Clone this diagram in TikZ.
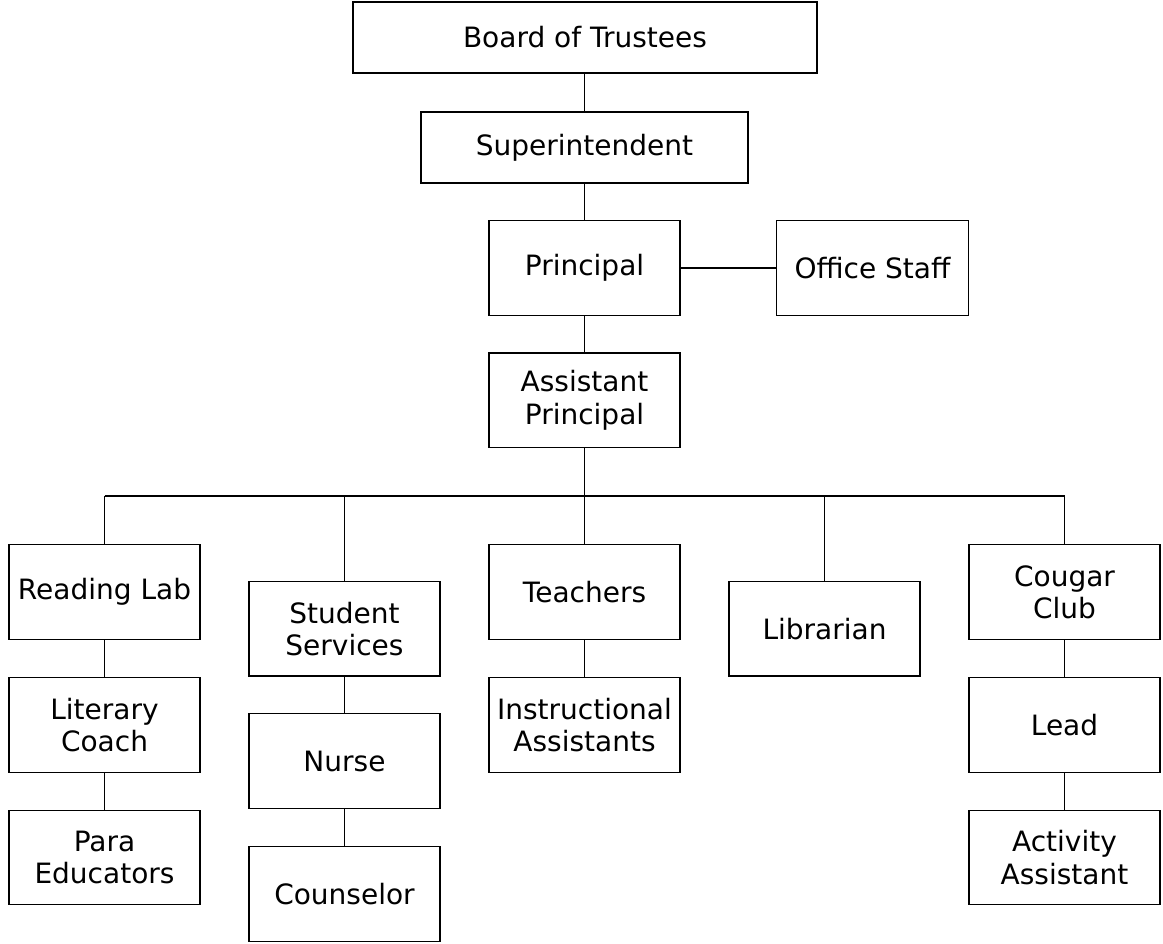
\documentclass[tikz,border=0pt]{standalone}
\usepackage{fontspec}
\setmainfont{DejaVu Sans}
\begin{document}
\begin{tikzpicture}[x=0.75pt,y=-0.75pt,
  box/.style={draw=black,line width=1pt,rectangle,inner sep=0pt,align=center,
    minimum width=191*0.75pt,minimum height=94.5*0.75pt,
    font=\fontsize{21}{24.2}\selectfont},
  link/.style={draw=black,line width=1pt}]
\useasboundingbox[fill=white] (0,0) rectangle (1163,943);
\node[box,minimum width=464*0.75pt,minimum height=71*0.75pt] (board) at (585,37.5) {Board of Trustees};
\node[box,minimum width=327*0.75pt,minimum height=71*0.75pt] (sup) at (584.5,147.5) {Superintendent};
\node[box] (prin) at (584.5,268) {Principal};
\node[box,minimum width=191.6*0.75pt] (office) at (872.5,268) {Office Staff};
\node[box] (ap) at (584.5,400.3) {Assistant\\Principal};
\node[box] (read) at (104.5,592) {Reading Lab};
\node[box] (ss) at (344.5,628.7) {Student\\Services};
\node[box] (teach) at (584.5,592) {Teachers};
\node[box] (lib) at (824.5,628.7) {Librarian};
\node[box] (cougar) at (1064.5,592) {Cougar\\Club};
\node[box] (lit) at (104.5,725) {Literary\\Coach};
\node[box] (nurse) at (344.5,761) {Nurse};
\node[box] (instr) at (584.5,725) {Instructional\\Assistants};
\node[box] (lead) at (1064.5,725) {Lead};
\node[box] (para) at (104.5,857.5) {Para\\Educators};
\node[box] (couns) at (344.5,894) {Counselor};
\node[box] (act) at (1064.5,857.5) {Activity\\Assistant};
\coordinate (busL) at (104.5,496);
\coordinate (busR) at (1064.5,496);
\draw[link] (board.south -| sup.north) -- (sup.north);
\draw[link] (sup.south) -- (prin.north);
\draw[link] (prin.east) -- (office.west);
\draw[link] (prin.south) -- (ap.north);
\draw[link] (ap.south) -- (ap.south |- busL);
\draw[link] (busL) -- (busR);
\foreach \n in {read,ss,teach,lib,cougar}{
  \draw[link] (\n.north) -- (\n.north |- busL);
}
\draw[link] (read.south) -- (lit.north);
\draw[link] (lit.south) -- (para.north);
\draw[link] (ss.south) -- (nurse.north);
\draw[link] (nurse.south) -- (couns.north);
\draw[link] (teach.south) -- (instr.north);
\draw[link] (cougar.south) -- (lead.north);
\draw[link] (lead.south) -- (act.north);
\end{tikzpicture}
\end{document}
